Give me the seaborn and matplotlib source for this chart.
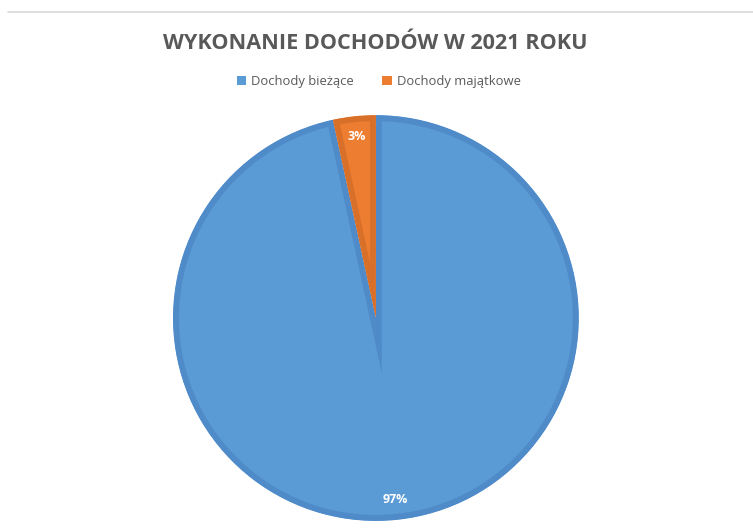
import matplotlib
matplotlib.use("Agg")
import matplotlib.pyplot as plt
import seaborn as sns
from matplotlib.lines import Line2D
from matplotlib.patches import Patch

# dane
categories = ['Dochody bieżące', 'Dochody majątkowe']
values = [96.6, 3.4]
colors = sns.color_palette(['#5B9BD5', '#ED7D31'])
edge_colors = ['#4F8BC9', '#D9702A']

sns.set_theme(style='white')
plt.rcParams['font.family'] = ['Open Sans', 'DejaVu Sans']

fig = plt.figure(figsize=(7.53, 5.29), dpi=100)
ax = fig.add_axes([0.2297, 0.0153, 0.539, 0.767])

wedges, texts, autotexts = ax.pie(
    values, colors=colors, startangle=90, counterclock=False,
    autopct='%1.0f%%', pctdistance=0.9, radius=1.0,
    wedgeprops=dict(linewidth=8.6),
    textprops=dict(color='white', fontsize=9, fontweight='bold'))
# obramowanie rysowane do wewnątrz wycinka (przycięte do jego kształtu)
for w, ec in zip(wedges, edge_colors):
    w.set_edgecolor(ec)
    w.set_clip_on(True)
    w.set_clip_path(w)
ax.set_xlim(-1, 1)
ax.set_ylim(-1, 1)
ax.set_aspect('equal')

fig.text(0.499, 0.918, 'WYKONANIE DOCHODÓW W 2021 ROKU', ha='center', va='center',
         fontsize=15.6, fontweight='bold', color='#595959')

handles = [Patch(facecolor=c, edgecolor='none') for c in colors]
fig.legend(handles, categories, loc='center', bbox_to_anchor=(0.503, 0.845),
           ncol=2, frameon=False, fontsize=9.4, labelcolor='#595959',
           handlelength=0.7, handleheight=0.7, handletextpad=0.4, columnspacing=2.2)

# górna krawędź ramki wykresu
fig.add_artist(Line2D([0.011, 1.0], [0.977, 0.977], color='#D9D9D9', linewidth=1.2))

fig.savefig('out.png', dpi=100)
